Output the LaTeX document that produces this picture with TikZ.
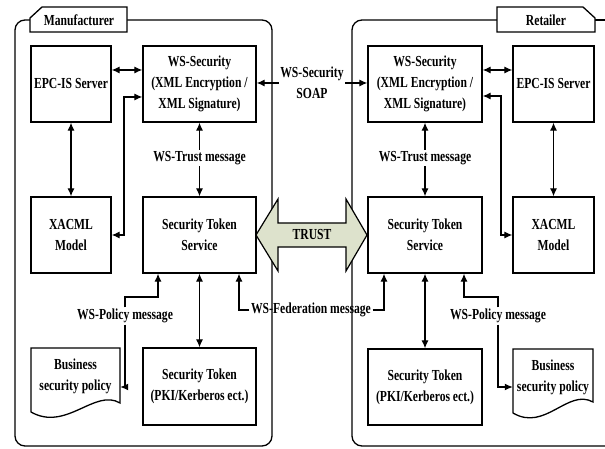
\documentclass[tikz,border=0pt]{standalone}
\usepackage{fontspec}
\setmainfont{Liberation Serif}[FakeStretch=0.76]
\usetikzlibrary{arrows.meta}
\definecolor{trustfill}{RGB}{221,226,204}
\begin{document}
\begin{tikzpicture}[x=1pt,y=-1pt,
  every node/.style={font=\fontsize{15.3}{21}\selectfont\bfseries},
  box/.style={draw, line width=1.3pt, inner sep=0pt, align=center},
  lbl/.style={inner sep=1.5pt, align=center},
  conn/.style={line width=1.2pt, -{Latex[length=8pt,width=7pt]}},
  dconn/.style={line width=1.2pt, {Latex[length=8pt,width=7pt]}-{Latex[length=8pt,width=7pt]}},
  cont/.style={line width=1.3pt, rounded corners=10pt},
  tab/.style={line width=1.3pt, fill=white},
  doc/.style={line width=1.3pt, fill=white},
]
\useasboundingbox (0,0) rectangle (605,449);
\clip (0,0) rectangle (605,449);

% containers
\draw[cont] (30,20) -- (15,20) -- (15,446) -- (272,446) -- (272,20) -- (127,20);
\draw[tab] (30,32) -- (30,18) -- (42,7) -- (127,7) -- (127,32) -- cycle;
\node (manu) at (79,20) {Manufacturer};

\draw[cont] (497,20) -- (352,20) -- (352,446) -- (640,446);
\draw[line width=1.3pt] (595,20) -- (610,20);
\draw[tab] (497,32) -- (497,7) -- (583,7) -- (595,18) -- (595,32) -- cycle;
\node (reta) at (546,20) {Retailer};

% left boxes
\node[box, minimum width=80pt, minimum height=76pt] (epcL) at (71,84) {EPC-IS Server};
\node[box, minimum width=113pt, minimum height=76pt] (wssL) at (199.5,84) {WS-Security\\(XML Encryption /\\XML Signature)};
\node[box, minimum width=80pt, minimum height=76pt] (xacL) at (71,235) {XACML\\Model};
\node[box, minimum width=113pt, minimum height=76pt] (stsL) at (199.5,235) {Security Token\\Service};
\node[box, minimum width=113pt, minimum height=77pt] (stL) at (199.5,386.5) {Security Token\\(PKI/Kerberos ect.)};
\draw[doc] (31,348) -- (120,348) -- (120,403) .. controls (95,388) and (66,432) .. (31,412) -- cycle;
\node[inner sep=0pt, minimum width=89pt, minimum height=57pt, align=center] (bizL) at (75.5,376.5) {Business\\security policy};

% right boxes
\node[box, minimum width=114pt, minimum height=76pt] (wssR) at (425,84) {WS-Security\\(XML Encryption /\\XML Signature)};
\node[box, minimum width=81pt, minimum height=76pt] (epcR) at (553.5,84) {EPC-IS Server};
\node[box, minimum width=114pt, minimum height=76pt] (stsR) at (425,235) {Security Token\\Service};
\node[box, minimum width=81pt, minimum height=76pt] (xacR) at (553.5,235) {XACML\\Model};
\node[box, minimum width=114pt, minimum height=76pt] (stR) at (425,387) {Security Token\\(PKI/Kerberos ect.)};
\draw[doc] (513,349) -- (593,349) -- (593,402) .. controls (568,388) and (545,432) .. (513,413) -- cycle;
\node[inner sep=0pt, minimum width=80pt, minimum height=57pt, align=center] (bizR) at (553,377) {Business\\security policy};

% left connectors
\draw[dconn] (epcL.east |- 0,70) -- (wssL.west |- 0,70);
\draw[dconn] (wssL.west |- 0,97) -- (124,97) -- (124,235) -- (xacL.east);
\draw[dconn] (epcL.south) -- (xacL.north);
\node[lbl] (trL) at (199.5,158) {WS-Trust message};
\draw[conn] (trL.north) -- (wssL.south);
\draw[conn] (trL.south) -- (stsL.north);
\draw[dconn] (stsL.south) -- (stL.north);
\node[lbl] (polL) at (125,316) {WS-Policy message};
\draw[conn] (polL.north) -- (125,297) -- (158,297) -- (stsL.south -| 158,0);
\draw[conn] (polL.south) -- (125,387) -- (bizL.east |- 0,387);

% right connectors
\draw[dconn] (wssR.east |- 0,70) -- (epcR.west |- 0,70);
\draw[dconn] (wssR.east |- 0,96) -- (501,96) -- (501,235) -- (xacR.west);
\draw[dconn] (epcR.south) -- (xacR.north);
\node[lbl] (trR) at (425,158) {WS-Trust message};
\draw[conn] (trR.north) -- (wssR.south);
\draw[conn] (trR.south) -- (stsR.north);
\draw[dconn] (stsR.south) -- (stR.north);
\node[lbl] (polR) at (498,316) {WS-Policy message};
\draw[conn] (polR.north) -- (498,297) -- (464,297) -- (stsR.south -| 464,0);
\draw[conn] (polR.south) -- (498,387) -- (bizR.west |- 0,387);

% middle
\node[lbl] (soap) at (312,83) {WS-Security\\SOAP};
\draw[conn] (soap.west) -- (wssL.east |- soap.west);
\draw[conn] (soap.east) -- (wssR.west |- soap.east);

\node[lbl] (fed) at (311,310) {WS-Federation message};
\draw[conn] (fed.west) -- (239,310) -- (stsL.south -| 239,0);
\draw[conn] (fed.east) -- (384,310) -- (stsR.south -| 384,0);

\draw[line width=1.2pt, fill=trustfill] (256,235) -- (278,199) -- (278,223) -- (346,223) -- (346,199) -- (367,235) -- (346,271) -- (346,247) -- (278,247) -- (278,271) -- cycle;
\node (trust) at (312,235) {TRUST};
\end{tikzpicture}
\end{document}
